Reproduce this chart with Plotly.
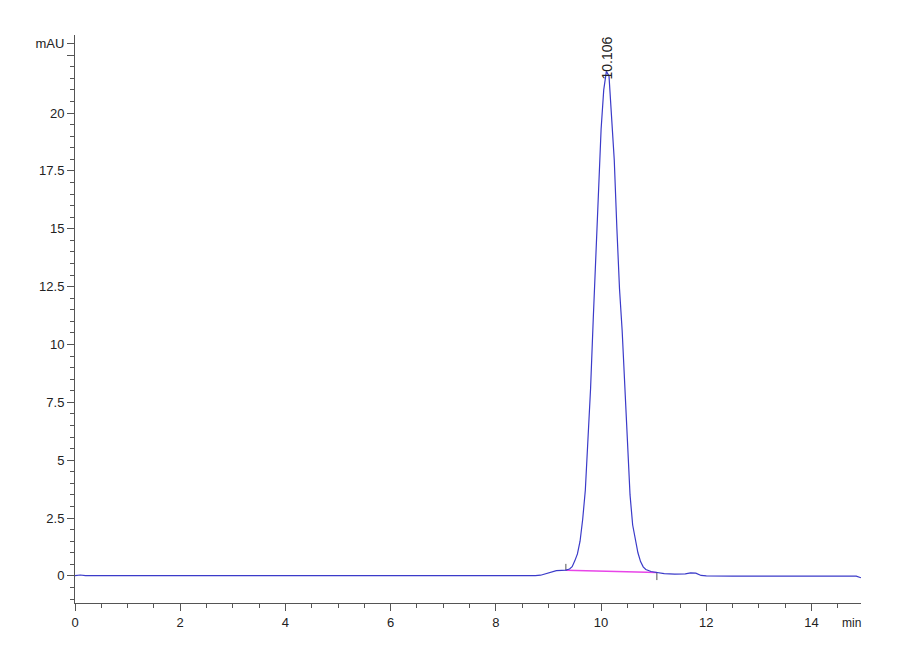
import plotly.graph_objects as go

# chromatogram (min, mAU)
time_min = [0.0, 0.1, 0.2, 0.5, 1.0, 1.5, 2.0, 2.5, 3.0, 3.5, 4.0, 4.5, 5.0, 5.5,
            6.0, 6.5, 7.0, 7.5, 8.0, 8.5, 8.75, 8.85, 8.95, 9.05, 9.15, 9.25,
            9.33, 9.40, 9.45, 9.50, 9.55, 9.60, 9.65, 9.70, 9.75, 9.80, 9.85,
            9.90, 9.95, 10.00, 10.05, 10.10, 10.15, 10.20, 10.25, 10.30, 10.35,
            10.40, 10.45, 10.50, 10.55, 10.60, 10.65, 10.70, 10.75, 10.80, 10.85,
            10.90, 10.95, 11.00, 11.06, 11.2, 11.4, 11.6, 11.7, 11.75, 11.8,
            11.9, 12.0, 12.5, 13.0, 13.5, 14.0, 14.5, 14.85, 14.94]
signal_mau = [0.01, 0.04, 0.01, 0.01, 0.0, -0.01, -0.02, -0.01, -0.01, -0.02, -0.01, -0.02, -0.01, -0.01,
              0.0, 0.0, -0.01, -0.01, 0.0, 0.0, 0.01, 0.03, 0.10, 0.19, 0.23, 0.24,
              0.25, 0.30, 0.40, 0.65, 0.95, 1.5, 2.45, 3.7, 5.7, 8.1, 11.06,
              13.8, 16.8, 19.3, 21.0, 21.8, 21.6, 20.0, 17.97, 15.0, 12.4,
              10.6, 8.1, 5.3, 3.5, 2.2, 1.5, 1.0, 0.62, 0.39, 0.28,
              0.22, 0.19, 0.17, 0.15, 0.10, 0.08, 0.09, 0.13, 0.14, 0.12,
              0.02, 0.0, -0.01, -0.01, 0.0, -0.01, -0.01, -0.01, -0.08]

# integration baseline (start, end)
base_time = [9.33, 11.06]
base_mau = [0.25, 0.15]

peak_rt = 10.106
peak_label = "10.106"
peak_top = 21.8

y_tickvals = [0, 2.5, 5, 7.5, 10, 12.5, 15, 17.5, 20, 22.5, 23]
y_ticktext = ["0", "2.5", "5", "7.5", "10", "12.5", "15", "17.5", "20", "", "mAU"]
x_tickvals = [0, 2, 4, 6, 8, 10, 12, 14]

font = "Liberation Sans, Arial, sans-serif"

fig = go.Figure()

fig.add_trace(go.Scatter(x=base_time, y=base_mau, mode="lines",
                         line=dict(color="#e845e8", width=1.5), hoverinfo="skip"))
# little markers at start/end of integration
fig.add_trace(go.Scatter(x=[base_time[0], base_time[0]], y=[base_mau[0] - 0.02, base_mau[0] + 0.27],
                         mode="lines", line=dict(color="#555", width=1), hoverinfo="skip"))
fig.add_trace(go.Scatter(x=[base_time[1], base_time[1]], y=[base_mau[1], base_mau[1] - 0.33],
                         mode="lines", line=dict(color="#555", width=1), hoverinfo="skip"))

fig.add_trace(go.Scatter(x=time_min, y=signal_mau, mode="lines",
                         line=dict(color="#3b3bc9", width=1.2)))

fig.add_annotation(x=peak_rt, y=peak_top, text=peak_label, textangle=-90,
                   showarrow=False, yanchor="bottom", yshift=-10,
                   font=dict(family=font, size=14, color="#222"))
fig.add_annotation(x=14.76, y=0, yref="paper", text="min", showarrow=False,
                   yanchor="top", yshift=-11,
                   font=dict(family=font, size=12, color="#222"))

# page body has an 8px margin, so the figure is 8px smaller than the window
fig.update_layout(
    width=892, height=652,
    margin=dict(l=67, r=39, t=27, b=57),
    paper_bgcolor="white", plot_bgcolor="white",
    showlegend=False,
    font=dict(family=font, size=13, color="#222"),
)

fig.update_xaxes(
    range=[0, 14.94], showgrid=False, zeroline=False,
    showline=True, linecolor="#555", linewidth=1,
    tickmode="array", tickvals=x_tickvals,
    ticks="outside", ticklen=7, tickcolor="#555",
    minor=dict(dtick=0.5, tick0=0, ticks="outside", ticklen=4, tickcolor="#555"),
)
fig.update_yaxes(
    range=[-1.17, 23.37], showgrid=False, zeroline=False,
    showline=True, linecolor="#555", linewidth=1,
    tickmode="array", tickvals=y_tickvals, ticktext=y_ticktext,
    ticks="outside", ticklen=7, tickcolor="#555",
    minor=dict(dtick=0.5, tick0=0, ticks="outside", ticklen=4, tickcolor="#555"),
)

fig.write_html("out.html")
